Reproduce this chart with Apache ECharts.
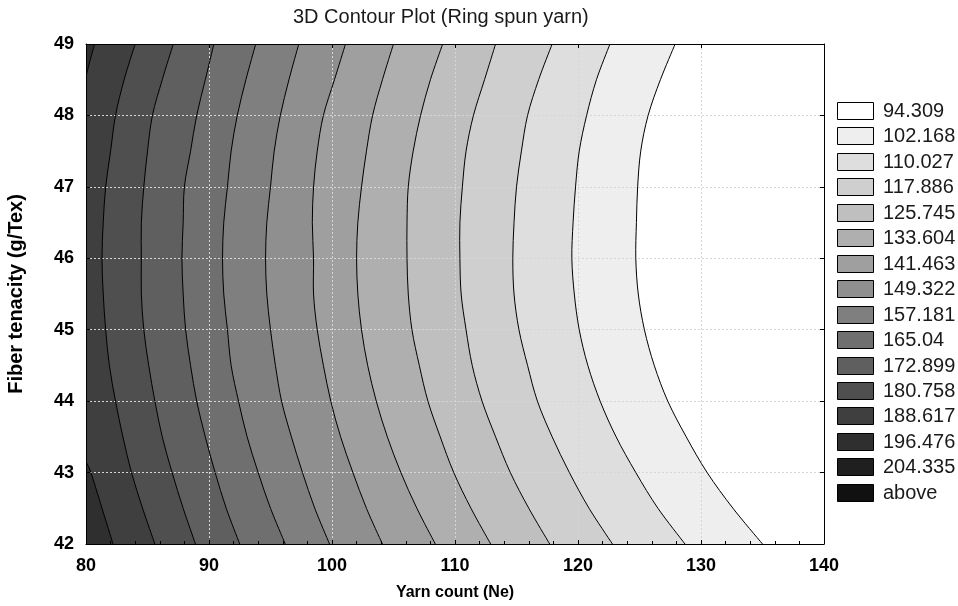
<!DOCTYPE html>
<html>
<head>
<meta charset="utf-8">
<title>3D Contour Plot (Ring spun yarn)</title>
<script src="https://cdn.jsdelivr.net/npm/echarts@6/dist/echarts.min.js"></script>
<style>
  html, body { margin: 0; padding: 0; background: #fff; }
  #chart { width: 958px; height: 606px; }
</style>
</head>
<body>
<div id="chart"></div>
<script>
// contour levels (legend bounds), low to high
const levels = [94.309, 102.168, 110.027, 117.886, 125.745, 133.604, 141.463,
  149.322, 157.181, 165.04, 172.899, 180.758, 188.617, 196.476, 204.335];
const legendLabels = ['94.309', '102.168', '110.027', '117.886', '125.745', '133.604',
  '141.463', '149.322', '157.181', '165.04', '172.899', '180.758', '188.617',
  '196.476', '204.335', 'above'];
const xTicks = [80, 90, 100, 110, 120, 130, 140];
const yTicks = [42, 43, 44, 45, 46, 47, 48, 49];

// tenacity rows the contours were read at (top to bottom)
const rows = [49, 48.5, 48, 47.5, 47, 46.5, 46, 45.5, 45, 44.5, 44, 43.5, 43, 42.5, 42];

// yarn count where each contour crosses those rows
const x094 = [127.9, 126.7, 125.7, 125.1, 124.85, 124.75, 124.7, 124.9, 125.4, 126.2, 127.3, 128.8, 130.5, 132.6, 135.0];
const x102 = [122.6, 121.5, 120.7, 120.1, 119.8, 119.6, 119.5, 119.7, 120.1, 120.8, 121.8, 123.1, 124.7, 126.5, 128.7];
const x110 = [117.9, 116.8, 115.9, 115.4, 115.0, 114.8, 114.7, 114.8, 115.2, 115.9, 116.7, 117.9, 119.3, 120.9, 122.8];
const x117 = [113.3, 112.4, 111.5, 110.9, 110.6, 110.4, 110.4, 110.5, 110.9, 111.4, 112.2, 113.3, 114.5, 116.0, 117.7];
const x125 = [109.0, 108.0, 107.2, 106.6, 106.2, 106.1, 106.1, 106.2, 106.5, 107.1, 107.8, 108.8, 109.9, 111.3, 112.9];
const x133 = [105.0, 104.1, 103.3, 102.8, 102.4, 102.1, 102.0, 102.1, 102.4, 102.9, 103.6, 104.5, 105.6, 106.9, 108.4];
const x141 = [101.1, 100.2, 99.3, 98.8, 98.5, 98.4, 98.5, 98.5, 98.8, 99.3, 99.9, 100.7, 101.7, 102.8, 104.1];
const x149 = [97.3, 96.5, 95.8, 95.3, 95.0, 94.7, 94.6, 94.7, 95.0, 95.4, 95.9, 96.7, 97.6, 98.6, 99.8];
const x157 = [93.8, 93.0, 92.3, 91.8, 91.5, 91.2, 91.1, 91.2, 91.5, 91.8, 92.4, 93.1, 94.0, 95.0, 96.2];
const x165 = [90.4, 89.7, 89.0, 88.5, 88.0, 87.9, 87.8, 87.9, 88.1, 88.5, 89.0, 89.7, 90.5, 91.4, 92.5];
const x172 = [87.1, 86.2, 85.4, 85.0, 84.7, 84.5, 84.5, 84.5, 84.7, 85.1, 85.6, 86.2, 87.0, 87.9, 88.9];
const x180 = [84.0, 83.1, 82.4, 82.0, 81.6, 81.4, 81.3, 81.4, 81.6, 81.9, 82.4, 83.0, 83.7, 84.6, 85.6];
// 188.617 leaves the plot on the left edge: two short pieces, [yarn count, tenacity]
const c188Top = [[80.7, 49], [80.3, 48.75], [80.0, 48.54]];
const c188Bottom = [[80.0, 43.15], [80.4, 43.0], [81.3, 42.5], [82.2, 42]];

const toPts = xs => xs.map((x, k) => [x, rows[k]]);
// each contour is a list of pieces
const contourList = [x094, x102, x110, x117, x125, x133, x141, x149, x157, x165, x172, x180]
  .map(xs => [toPts(xs)])
  .concat([[c188Top, c188Bottom]]);

// band colours, same order as legendLabels
const bandColors = ['#ffffff', '#eeeeee', '#dedede', '#cfcfcf', '#bfbfbf', '#afafaf',
  '#9f9f9f', '#8f8f8f', '#7f7f7f', '#6f6f6f', '#5f5f5f', '#4f4f4f', '#3f3f3f',
  '#2f2f2f', '#1f1f1f', '#111111'];

const FONT = '"Liberation Sans", Arial, sans-serif';
const chart = echarts.init(document.getElementById('chart'), null, { renderer: 'canvas' });

// catmull-rom through projected points; 'M' starts a new path, 'L' joins on
function smoothPath(pts, join) {
  let d = join + pts[0][0] + ' ' + pts[0][1];
  for (let k = 0; k < pts.length - 1; k++) {
    const p0 = pts[k - 1] || pts[k], p1 = pts[k], p2 = pts[k + 1], p3 = pts[k + 2] || pts[k + 1];
    const c1x = p1[0] + (p2[0] - p0[0]) / 6, c1y = p1[1] + (p2[1] - p0[1]) / 6;
    const c2x = p2[0] - (p3[0] - p1[0]) / 6, c2y = p2[1] - (p3[1] - p1[1]) / 6;
    d += ' C' + c1x + ' ' + c1y + ' ' + c2x + ' ' + c2y + ' ' + p2[0] + ' ' + p2[1];
  }
  return d;
}

// fill left of each contour with the colour of the band above it
function renderBand(params, api) {
  const i = api.value(2);
  const pieces = contourList[i].map(pc => pc.map(p => api.coord(p)));
  let d = pieces.map((pc, j) => smoothPath(pc, j === 0 ? 'M' : ' L')).join('');
  const first = contourList[i][0], lastPc = contourList[i][contourList[i].length - 1];
  const b = api.coord([70, lastPc[lastPc.length - 1][1]]);
  const t = api.coord([70, first[0][1]]);
  d += ' L' + b[0] + ' ' + b[1] + ' L' + t[0] + ' ' + t[1] + ' Z';
  return { type: 'path', shape: { pathData: d }, style: { fill: bandColors[i + 1], stroke: null } };
}

function renderLine(params, api) {
  const i = api.value(2);
  const d = contourList[i].map(pc => smoothPath(pc.map(p => api.coord(p)), 'M')).join(' ');
  return { type: 'path', shape: { pathData: d }, style: { stroke: '#000', fill: null, lineWidth: 1 } };
}

const legendItems = [];
legendLabels.forEach((lab, k) => {
  const y = Math.round(102 + 25.45 * k);
  legendItems.push({
    type: 'rect', shape: { x: 837.5, y: y + 0.5, width: 36, height: 17 },
    style: { fill: bandColors[k], stroke: '#000', lineWidth: 1 }
  });
  legendItems.push({
    type: 'text', x: 883, y: y + 9,
    style: { text: lab, fill: '#1a1a1a', font: '20px ' + FONT, textVerticalAlign: 'middle' }
  });
});

const axisCommon = {
  type: 'value',
  axisLine: { show: true, onZero: false, lineStyle: { color: '#000', width: 1 } },
  axisTick: { show: true, inside: true, length: 4, lineStyle: { color: '#000' } }
};

const option = {
  animation: false,
  backgroundColor: '#fff',
  grid: { left: 86, right: 134, top: 44, bottom: 62, containLabel: false, outerBoundsMode: 'none' },
  graphic: [
    {
      type: 'text', x: 293, y: 7,
      style: { text: '3D Contour Plot (Ring spun yarn)', fill: '#1a1a1a', font: '20px ' + FONT }
    }
  ].concat(legendItems),
  xAxis: [
    Object.assign({}, axisCommon, {
      position: 'bottom', min: 80, max: 140, interval: 10, z: 5,
      name: 'Yarn count (Ne)', nameLocation: 'middle', nameGap: 41,
      nameTextStyle: { fontFamily: FONT, fontWeight: 'bold', fontSize: 16, color: '#000' },
      axisLabel: { margin: 13, fontFamily: FONT, fontWeight: 'bold', fontSize: 18, color: '#000',
        formatter: v => xTicks.indexOf(v) >= 0 ? String(v) : '' },
      minorTick: { show: true, splitNumber: 5, length: 3, lineStyle: { color: '#000' } },
      splitLine: { show: true, lineStyle: { color: '#d6d6d6', type: [2, 2], width: 1 } }
    }),
    Object.assign({}, axisCommon, {
      position: 'top', min: 80, max: 140, interval: 10, z: 5,
      axisLabel: { show: false }, splitLine: { show: false }
    })
  ],
  yAxis: [
    Object.assign({}, axisCommon, {
      position: 'left', min: 42, max: 49, interval: 1, z: 5,
      name: 'Fiber tenacity (g/Tex)', nameLocation: 'middle', nameGap: 60, nameRotate: 90,
      nameTextStyle: { fontFamily: FONT, fontWeight: 'bold', fontSize: 20, color: '#000' },
      axisLabel: { margin: 12, fontFamily: FONT, fontWeight: 'bold', fontSize: 18, color: '#000',
        formatter: v => yTicks.indexOf(v) >= 0 ? String(v) : '' },
      splitLine: { show: true, lineStyle: { color: '#d6d6d6', type: [2, 2], width: 1 } }
    }),
    Object.assign({}, axisCommon, {
      position: 'right', min: 42, max: 49, interval: 1, z: 5,
      axisLabel: { show: false }, splitLine: { show: false }
    })
  ],
  series: [
    {
      type: 'custom', name: 'bands', silent: true, z: 1, clip: true,
      renderItem: renderBand,
      data: contourList.map((c, i) => [80, 42, i])
    },
    {
      type: 'custom', name: 'contours', silent: true, z: 6, clip: true,
      renderItem: renderLine,
      data: contourList.map((c, i) => [80, 42, i])
    }
  ]
};

chart.setOption(option);
</script>
</body>
</html>
